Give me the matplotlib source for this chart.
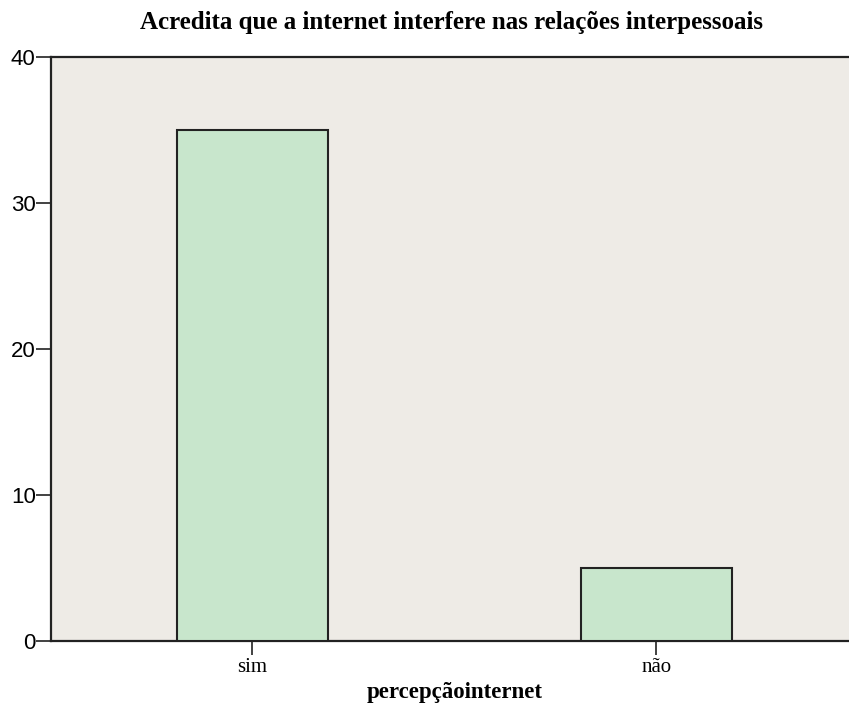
import matplotlib
matplotlib.use("Agg")
import matplotlib.pyplot as plt

categories = ["sim", "não"]
counts = [35, 5]
yticks = [0, 10, 20, 30, 40]

fig = plt.figure(figsize=(8.49, 7.06), dpi=100)
ax = fig.add_axes([51/849, 1-641/706, 1-51/849+0.01, (641-57)/706])
ax.set_facecolor("#EEEBE6")

x = list(range(len(categories)))
ax.bar(x, counts, width=0.374, color="#C8E6CC", edgecolor="#222222", linewidth=1.5, zorder=3)

ax.set_xlim(-0.4975, 1.4776 + 0.02)
ax.set_ylim(0, 40)
ax.set_yticks(yticks)
ax.set_yticklabels([str(v) for v in yticks], fontfamily="Liberation Sans", fontsize=16)
ax.set_xticks(x)
ax.set_xticklabels(categories, fontfamily="Liberation Serif", fontsize=15)
ax.tick_params(axis="y", length=11, width=1.3, color="#333333", pad=0)
ax.tick_params(axis="x", length=10, width=1.3, color="#333333", pad=2)

for s in ["left", "bottom", "top"]:
    ax.spines[s].set_linewidth(1.6)
    ax.spines[s].set_color("#222222")
ax.spines["right"].set_visible(False)

ax.set_xlabel("percepçãointernet", fontfamily="Liberation Serif", fontweight="bold", fontsize=16.5, labelpad=4)
fig.text(452/849, 1-22/706, "Acredita que a internet interfere nas relações interpessoais",
         ha="center", va="center", fontfamily="Liberation Serif", fontweight="bold", fontsize=18)

fig.savefig("out.png", dpi=100)
